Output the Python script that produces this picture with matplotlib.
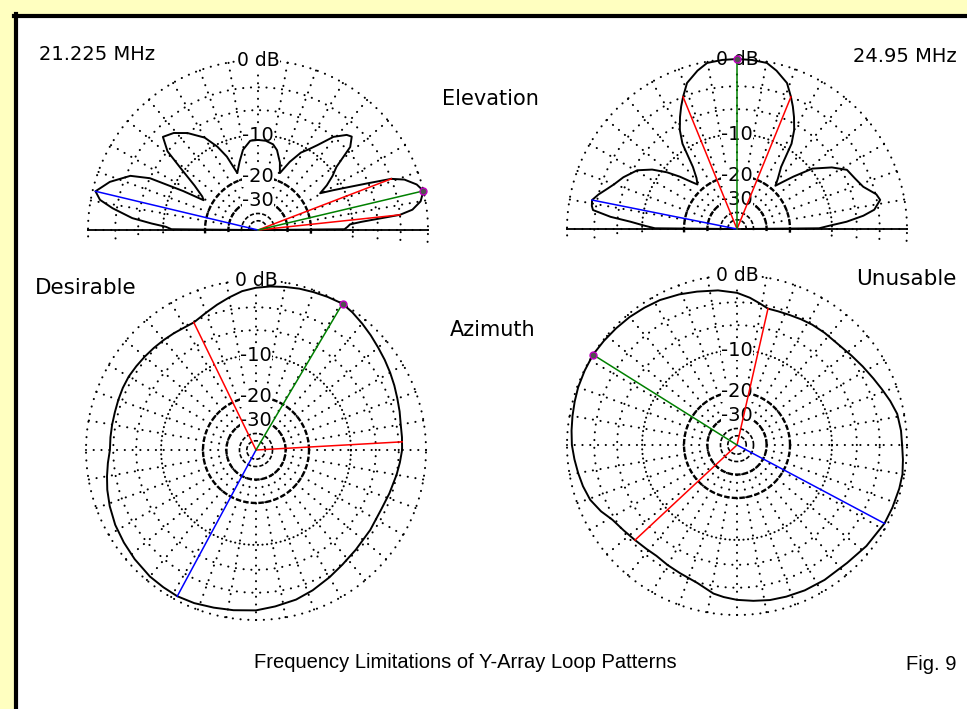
import numpy as np
import matplotlib.pyplot as plt
from matplotlib.patches import Rectangle

plt.rcParams['lines.scale_dashes'] = False

W, H = 967, 709

# ---- elevation pattern, 21.225 MHz (angle deg, gain dB) ----
elev_lo_ang = [0, 0.5, 2, 3.5, 4.5, 5.3, 6.1, 7.5, 10, 13.3, 16, 19, 21, 23, 25.2, 28, 30.6,
               33, 36, 38.8, 42, 44.9, 47, 51, 55, 58, 61, 65, 69, 72, 76.6, 80, 85, 90, 95,
               100.6, 105, 110, 113, 116, 120, 126, 131, 135.6, 139, 141.7, 145, 149, 151.3,
               152.5, 154.4, 157, 162, 166.6, 169.2, 171.5, 174.6, 176.5, 178, 179.5, 180]
elev_lo_db = [-60, -11.6, -11, -10.5, -8.5, -6, -3, -1.5, -0.5, 0, -0.5, -1.6, -3, -6, -8.9, -12, -14.7,
              -12.5, -10.5, -9, -5.4, -4.3, -4.6, -6, -8.5, -10, -11.2, -14, -17.6, -15, -12.5, -11.5, -11, -10.9, -11,
              -12.6, -15, -17.7, -13, -10.4, -8, -6, -4.8, -4.2, -6, -9.7, -13.5, -16.5, -17.3,
              -12, -6, -3.5, -1.5, -0.3, -0.95, -2.5, -5.1, -8, -10.5, -11.6, -60]
elev_lo_max = 13.3
elev_lo_half = [6.1, 21]
elev_lo_back = 166.6

# ---- elevation pattern, 24.95 MHz ----
elev_hi_ang = [0, 0.5, 2, 3.8, 6, 8, 11.5, 14, 18.5, 23, 28.3, 33, 38.7, 42.9, 46, 48.4,
               51, 54.6, 57.4, 60, 63, 65.5, 67.8, 71.1, 76, 79.8, 85, 90, 95, 100.2, 104,
               108.9, 112.2, 114.5, 117, 120, 122.6, 125.4, 128.5, 131.6, 134, 137.5, 141,
               145, 149.5, 155.5, 160, 163, 166, 168.7, 171, 172.5, 174.5, 176.1, 178, 179.5, 180]
elev_hi_db = [-60, -12.5, -10.5, -7.5, -5, -3.5, -2.6, -2.9, -4.2, -4.8, -5.3, -7, -9.7, -13.6, -16.5, -18.5,
              -16.5, -13.8, -8.9, -6.8, -5.2, -4, -3, -1.66, -0.7, -0.13, -0.03, 0, -0.03, -0.13, -0.7,
              -1.66, -3, -4, -5.2, -6.8, -8.9, -13.8, -16.5, -18, -16.4, -13.5, -10.9,
              -8.5, -6.6, -5.3, -4.5, -3.8, -3.0, -2.4, -2.5, -2.7, -5, -8, -10.5, -12.5, -60]
elev_hi_max = 90
elev_hi_half = [67.8, 112.2]
elev_hi_back = 168.7

# ---- azimuth pattern, desirable ----
az_good_ang = [0, 5, 10, 15, 20, 25, 30, 35, 40, 45, 50, 55, 59.4, 65, 70, 75, 80, 85, 90, 95,
               100, 105, 110, 116, 120, 125, 130, 135, 140, 145, 150, 155, 160, 165, 170, 175,
               180, 185, 190, 195, 201, 208, 215, 222, 230, 236, 241.7, 248, 255, 262, 270,
               277, 285, 292, 300, 307, 315, 325, 335, 342, 350, 355, 360]
az_good_db = [-2.6, -2.55, -2.5, -2.3, -2.1, -1.85, -1.6, -1.35, -1.1, -0.8, -0.5, -0.2, 0, -0.1, -0.2,
              -0.3, -0.45, -0.6, -0.8, -1.1, -1.6, -2.1, -2.6, -3.1, -3.1, -3.0, -2.9, -2.8, -2.7,
              -2.6, -2.5, -2.5, -2.55, -2.6, -2.6, -2.6, -2.6, -2.3, -2.0, -1.7, -1.4, -1.1, -0.9,
              -0.7, -0.5, -0.45, -0.4, -0.5, -0.7, -0.85, -1.0, -1.3, -1.6, -2.0, -2.5, -2.9, -3.2,
              -3.4, -3.5, -3.3, -3.0, -2.8, -2.6]
az_good_max = 59.4
az_good_half = [3.2, 116]
az_good_back = 241.7

# ---- azimuth pattern, unusable ----
az_bad_ang = [0, 5, 11, 16, 21, 26, 32, 38, 45, 52, 58, 63, 68, 73, 77.2, 81, 85, 90, 97, 104.6,
              111, 118, 124, 130, 136, 142, 147.9, 154, 160, 165, 170, 175, 180, 185, 190, 195,
              200.5, 206, 211, 217, 223, 229, 234, 240, 246, 254, 261, 265, 270, 276, 282, 288,
              295, 303, 313, 322, 332, 338, 345, 350, 355, 360]
az_bad_db = [-0.5, -0.55, -0.7, -1.1, -1.55, -1.95, -2.35, -2.7, -3.0, -3.05, -3.1, -3.2, -3.3, -3.35,
             -3.35, -2.9, -2.4, -1.9, -1.5, -1.2, -0.9, -0.6, -0.45, -0.3, -0.2, -0.1, 0, -0.05,
             -0.1, -0.2, -0.3, -0.4, -0.5, -0.7, -0.9, -1.1, -1.4, -2.0, -2.7, -3.1, -3.4, -3.6,
             -3.7, -3.5, -3.3, -2.9, -2.1, -1.85, -1.6, -1.4, -1.2, -1.1, -1.0, -0.95, -0.9, -0.6,
             -0.3, -0.25, -0.2, -0.2, -0.35, -0.5]
az_bad_max = 147.9
az_bad_half = [77.2, 223]
az_bad_back = 332

ring_db = [0, -3, -6, -10, -20, -30, -40, -50]
ring_labels = {-10: '-10', -20: '-20', -30: '-30'}


def arrl(db):
    # ARRL log scale: radius shrinks by 0.89 for every 2 dB
    return 0.89 ** (-np.asarray(db, dtype=float) / 2.0)


def gain_at(ang, angs, dbs):
    return float(np.interp(ang, angs, dbs))


def polar_at(fig, cx, cy, R):
    ax = fig.add_axes([(cx - R) / W, (H - cy - R) / H, 2 * R / W, 2 * R / H],
                      projection='polar')
    ax.set_ylim(0, 1)
    ax.set_axis_off()
    return ax


def dots(ax, th, r, gap):
    ax.plot(th, r, color='k', lw=1.5, ls=(0, (0.1, gap)), dash_capstyle='round',
            clip_on=False, zorder=1)


def draw_grid(ax, t0, t1):
    th = np.radians(np.linspace(t0, t1, 400))
    for db in ring_db:
        r = np.full_like(th, arrl(db))
        if db in (-20, -30):
            ax.plot(th, r, color='k', lw=1.7, ls=(0, (4, 1.5)), clip_on=False, zorder=1)
        elif db <= -40:
            ax.plot(th, r, color='k', lw=1.2, ls=(0, (3, 1.5)), clip_on=False, zorder=1)
        elif db == -10:
            dots(ax, th, r, 3.2)
        else:
            dots(ax, th, r, 5.5)
    for a in np.arange(0, 360, 10):
        if t0 <= a <= t1:
            dots(ax, [np.radians(a)] * 2, [arrl(-30), 1.0], 5.5)
    ax.text(np.pi / 2, 1.0, '0 dB', ha='center', va='center', fontsize=13.5,
            bbox=dict(fc='white', ec='none', pad=0.5), zorder=2)
    for db, lab in ring_labels.items():
        ax.text(np.pi / 2, arrl(db), lab, ha='center', va='center', fontsize=14,
                bbox=dict(fc='white', ec='none', pad=0.3), zorder=2)


def draw_pattern(ax, angs, dbs, a_max, a_half, a_back):
    ax.plot(np.radians(angs), arrl(dbs), color='k', lw=1.4, clip_on=False, zorder=4)
    for a, col in [(a_half[0], 'red'), (a_half[1], 'red'), (a_back, 'blue'), (a_max, 'green')]:
        ax.plot([0, np.radians(a)], [0, arrl(gain_at(a, angs, dbs))], color=col, lw=1.1,
                clip_on=False, zorder=5)
    ax.plot([np.radians(a_max)], [arrl(gain_at(a_max, angs, dbs))], 'o', ms=5,
            mfc='#505050', mec='#c000c0', mew=1.0, clip_on=False, zorder=6)


fig = plt.figure(figsize=(W / 100, H / 100), dpi=100)
fig.patch.set_facecolor('#ffffc0')
fig.add_artist(Rectangle((14 / W, 0), 1, 1 - 14 / H, transform=fig.transFigure,
                         fc='white', ec='none', zorder=0))
fig.add_artist(plt.Line2D([16 / W, 16 / W], [0, 1 - 14 / H], color='k', lw=3,
                          transform=fig.transFigure))
fig.add_artist(plt.Line2D([14 / W, 1], [1 - 16 / H, 1 - 16 / H], color='k', lw=3,
                          transform=fig.transFigure))

# elevation plots
for cx, cy, angs, dbs, a_max, a_half, a_back in [
        (258, 230, elev_lo_ang, elev_lo_db, elev_lo_max, elev_lo_half, elev_lo_back),
        (737, 229, elev_hi_ang, elev_hi_db, elev_hi_max, elev_hi_half, elev_hi_back)]:
    ax = polar_at(fig, cx, cy, 170)
    draw_grid(ax, -4, 184)
    ax.plot([0, 0], [0, 1], color='k', lw=1.3, zorder=3, clip_on=False)
    ax.plot([np.pi, np.pi], [0, 1], color='k', lw=1.3, zorder=3, clip_on=False)
    draw_pattern(ax, angs, dbs, a_max, a_half, a_back)

# azimuth plots
for cx, cy, angs, dbs, a_max, a_half, a_back in [
        (256, 450, az_good_ang, az_good_db, az_good_max, az_good_half, az_good_back),
        (737, 445, az_bad_ang, az_bad_db, az_bad_max, az_bad_half, az_bad_back)]:
    ax = polar_at(fig, cx, cy, 170)
    draw_grid(ax, 0, 360)
    draw_pattern(ax, angs, dbs, a_max, a_half, a_back)

fs = 14
fig.text(39 / W, 1 - 55 / H, '21.225 MHz', fontsize=fs, va='center', ha='left')
fig.text(957 / W, 1 - 57 / H, '24.95 MHz', fontsize=fs, va='center', ha='right')
fig.text(490 / W, 1 - 99 / H, 'Elevation', fontsize=15, va='center', ha='center')
fig.text(493 / W, 1 - 330 / H, 'Azimuth', fontsize=15, va='center', ha='center')
fig.text(35 / W, 1 - 288 / H, 'Desirable', fontsize=15.5, va='center', ha='left')
fig.text(957 / W, 1 - 279 / H, 'Unusable', fontsize=15.5, va='center', ha='right')
narrow = ['Liberation Sans Narrow', 'Liberation Sans']
fig.text(465 / W, 1 - 662 / H, 'Frequency Limitations of Y-Array Loop Patterns',
         fontsize=14.5, family=narrow, va='center', ha='center')
fig.text(957 / W, 1 - 664 / H, 'Fig. 9', fontsize=14.5, family=narrow, va='center', ha='right')

fig.savefig('out.png', dpi=100, facecolor=fig.get_facecolor())
